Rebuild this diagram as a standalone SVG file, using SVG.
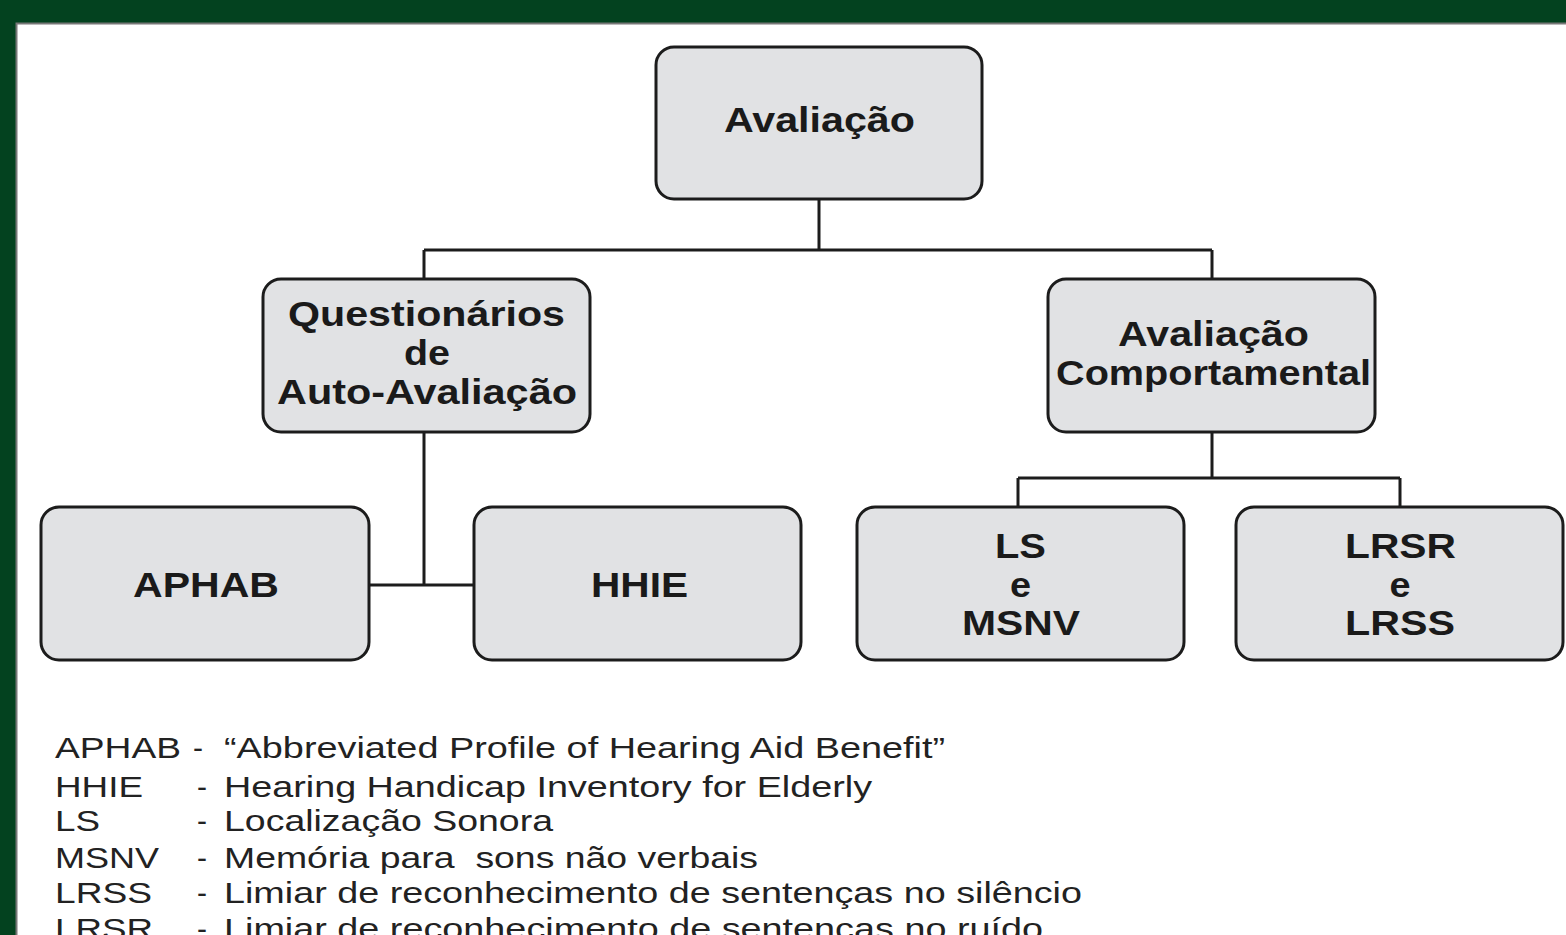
<svg xmlns="http://www.w3.org/2000/svg" width="1566" height="935" viewBox="0 0 1566 935">
<style>
.box{fill:#e1e2e4;stroke:#1c1c1c;stroke-width:3}
.bt{font-family:"Liberation Sans",Arial,sans-serif;font-weight:bold;font-size:35px;fill:#1a1a1a;text-anchor:middle}
.lg{font-family:"Liberation Sans",Arial,sans-serif;font-size:30px;fill:#222}
.cn{fill:none;stroke:#1c1c1c;stroke-width:3}
</style>
<rect x="0" y="0" width="1566" height="935" fill="#03421f"/>
<rect x="16.5" y="23.5" width="1560" height="920" fill="#ffffff" stroke="#777" stroke-width="2"/>
<g id="connectors">
<path class="cn" d="M819 199V250M424 250H1212M424 250V279M1212 250V279"/>
<path class="cn" d="M424 432V585M369 585H474"/>
<path class="cn" d="M1212 432V478M1018 478H1400M1018 478V507M1400 478V507"/>
</g>
<g id="avaliacao">
<rect class="box" x="656" y="47" width="326" height="152" rx="18"/>
<text class="bt" x="819.5" y="132" textLength="191" lengthAdjust="spacingAndGlyphs">Avaliação</text>
</g>
<g id="questionarios">
<rect class="box" x="263" y="279" width="327" height="153" rx="18"/>
<text class="bt" x="426.5" y="326" textLength="277" lengthAdjust="spacingAndGlyphs">Questionários</text>
<text class="bt" x="427" y="365" textLength="46" lengthAdjust="spacingAndGlyphs">de</text>
<text class="bt" x="427" y="404" textLength="300" lengthAdjust="spacingAndGlyphs">Auto-Avaliação</text>
</g>
<g id="comportamental">
<rect class="box" x="1048" y="279" width="327" height="153" rx="18"/>
<text class="bt" x="1213.5" y="346" textLength="191" lengthAdjust="spacingAndGlyphs">Avaliação</text>
<text class="bt" x="1213.5" y="385" textLength="315" lengthAdjust="spacingAndGlyphs">Comportamental</text>
</g>
<g id="aphab">
<rect class="box" x="41" y="507" width="328" height="153" rx="18"/>
<text class="bt" x="206" y="597" textLength="146" lengthAdjust="spacingAndGlyphs">APHAB</text>
</g>
<g id="hhie">
<rect class="box" x="474" y="507" width="327" height="153" rx="18"/>
<text class="bt" x="639.5" y="597" textLength="97" lengthAdjust="spacingAndGlyphs">HHIE</text>
</g>
<g id="ls-msnv">
<rect class="box" x="857" y="507" width="327" height="153" rx="18"/>
<text class="bt" x="1020.5" y="558" textLength="51" lengthAdjust="spacingAndGlyphs">LS</text>
<text class="bt" x="1020.5" y="597" textLength="21" lengthAdjust="spacingAndGlyphs">e</text>
<text class="bt" x="1021" y="635" textLength="118" lengthAdjust="spacingAndGlyphs">MSNV</text>
</g>
<g id="lrsr-lrss">
<rect class="box" x="1236" y="507" width="327" height="153" rx="18"/>
<text class="bt" x="1400.5" y="558" textLength="111" lengthAdjust="spacingAndGlyphs">LRSR</text>
<text class="bt" x="1400" y="597" textLength="21" lengthAdjust="spacingAndGlyphs">e</text>
<text class="bt" x="1400" y="635" textLength="110" lengthAdjust="spacingAndGlyphs">LRSS</text>
</g>
<g id="legend">
<text class="lg" x="55" y="758" textLength="126" lengthAdjust="spacingAndGlyphs">APHAB</text>
<text class="lg" x="193" y="758">-</text>
<text class="lg" x="224" y="758" textLength="721" lengthAdjust="spacingAndGlyphs">“Abbreviated Profile of Hearing Aid Benefit”</text>
<text class="lg" x="55" y="797" textLength="88" lengthAdjust="spacingAndGlyphs">HHIE</text>
<text class="lg" x="197" y="797">-</text>
<text class="lg" x="224" y="797" textLength="648" lengthAdjust="spacingAndGlyphs">Hearing Handicap Inventory for Elderly</text>
<text class="lg" x="55" y="831" textLength="45" lengthAdjust="spacingAndGlyphs">LS</text>
<text class="lg" x="197" y="831">-</text>
<text class="lg" x="224" y="831" textLength="329" lengthAdjust="spacingAndGlyphs">Localização Sonora</text>
<text class="lg" x="55" y="868" textLength="104" lengthAdjust="spacingAndGlyphs">MSNV</text>
<text class="lg" x="197" y="868">-</text>
<text class="lg" x="224" y="868" textLength="534" lengthAdjust="spacingAndGlyphs" xml:space="preserve">Memória para  sons não verbais</text>
<text class="lg" x="55" y="903" textLength="97" lengthAdjust="spacingAndGlyphs">LRSS</text>
<text class="lg" x="197" y="903">-</text>
<text class="lg" x="224" y="903" textLength="858" lengthAdjust="spacingAndGlyphs">Limiar de reconhecimento de sentenças no silêncio</text>
<text class="lg" x="55" y="939" textLength="98" lengthAdjust="spacingAndGlyphs">LRSR</text>
<text class="lg" x="197" y="939">-</text>
<text class="lg" x="224" y="939" textLength="819" lengthAdjust="spacingAndGlyphs">Limiar de reconhecimento de sentenças no ruído</text>
</g>
</svg>
